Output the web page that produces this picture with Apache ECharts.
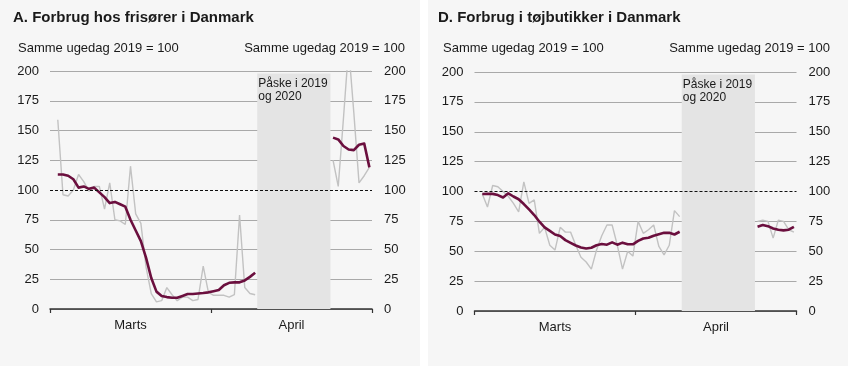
<!DOCTYPE html>
<html><head><meta charset="utf-8">
<script src="https://cdn.jsdelivr.net/npm/echarts@6/dist/echarts.min.js"></script>
<style>html,body{margin:0;padding:0;background:#ffffff;}#c{width:848px;height:366px;}</style>
</head><body><div id="c"></div>
<script>
// Tick / category labels
const monthLabels = ['Marts', 'April'];
const yTicks = [0, 25, 50, 75, 100, 125, 150, 175, 200];
const titles = ['A. Forbrug hos frisører i Danmark', 'D. Forbrug i tøjbutikker i Danmark'];
const unitLabel = 'Samme ugedag 2019 = 100';
const easterLabel = 'Påske i 2019\nog 2020';
const G = null; // Easter gap (no data)

// Day-by-day values (index 0 = first day shown), Easter period missing
const hairDaily = [159, 96, 95, 100, 113, 107, 99, 103, 103, 84, 106, 75, 74, 71, 120, 80, 72, 35, 13, 6,
  7, 18, 12, 7, 10, 10, 7, 8, 36, 14, 11.5, 11.5, 11.5, 10, 12, 79, 18, 13, 12,
  G, G, G, G, G, G, G, G, G, G, G, G, G, G,
  125, 103, 160, 220, 165, 106, 112, 119];
const hairAvg = [113, 113, 112, 109, 102, 103, 101, 102, 98, 94, 89, 90, 88, 86, 75, 66, 57, 43, 26, 14.6,
  11, 10, 9.5, 9.5, 11, 12.6, 12.6, 13, 13.4, 14, 15, 16, 20, 22, 22.4, 22.4, 24, 27, 30.5,
  G, G, G, G, G, G, G, G, G, G, G, G, G, G,
  144, 142.5, 137, 134, 133.5, 138, 139, 119];
const clothDaily = [98, 87, 105, 104, 100, 96, 90, 83, 108, 90, 93, 65, 70, 55, 51, 70, 66, 66, 55, 45,
  41, 35, 51, 63, 72, 72, 55, 35, 50, 46, 75, 65, 68, 72, 54, 47, 55, 84, 79,
  G, G, G, G, G, G, G, G, G, G, G, G, G, G,
  75, 76, 75, 61, 76, 75, 68, 66];
const clothAvg = [97.9, 98, 98, 97, 95, 98.5, 95.8, 93.5, 89.5, 85, 80.3, 74.7, 70, 67, 64, 62.7, 59.3, 57, 54.8, 53.2,
  52.3, 52.9, 55, 56, 55.5, 57.4, 55.5, 57.2, 55.8, 55.8, 58.7, 60.7, 61.3, 63, 64.3, 65.4, 65.4, 64, 66.3,
  G, G, G, G, G, G, G, G, G, G, G, G, G, G,
  70.5, 72, 71, 69, 68, 67.5, 68, 70.5];

const FONT = '"Liberation Sans", Arial, sans-serif';
const TXT = '#1a1a1a';
const chart = echarts.init(document.getElementById('c'), null, {renderer: 'canvas'});

const toPts = arr => arr.map((v, i) => [i + 1, v === null ? '-' : v]);
const xMin = -0.5, xMax = 61.5, monthSplit = 30.5;
const easterFrom = 39.4, easterTo = 53.5;

const grids = [
  {left: 50, top: 71, width: 322, height: 238},
  {left: 474.5, top: 72, width: 322, height: 239}
];
const gridColor = yTicks.map(v => v === 100 ? 'rgba(0,0,0,0)' : '#a9a9a9');

const xAxes = grids.map((g, i) => ({
  type: 'value', gridIndex: i, min: xMin, max: xMax,
  axisLine: {show: true, lineStyle: {color: '#333', width: 1.5}},
  axisTick: {show: true, customValues: [xMin, monthSplit, xMax], length: 4, inside: false, lineStyle: {color: '#333', width: 1.2}},
  axisLabel: {show: true, customValues: [(xMin + monthSplit) / 2, (monthSplit + xMax) / 2], margin: 10,
    formatter: v => v < monthSplit ? monthLabels[0] : monthLabels[1], color: TXT, fontSize: 13, fontFamily: FONT},
  splitLine: {show: false}
}));

const yAxes = [];
grids.forEach((g, i) => {
  yAxes.push({type: 'value', gridIndex: i, position: 'left', min: 0, max: 200, interval: 25,
    axisLine: {show: false}, axisTick: {show: false},
    axisLabel: {color: TXT, fontSize: 13, fontFamily: FONT, margin: 11},
    splitLine: {show: true, lineStyle: {color: gridColor, width: 1}}});
  yAxes.push({type: 'value', gridIndex: i, position: 'right', min: 0, max: 200, interval: 25,
    axisLine: {show: false}, axisTick: {show: false},
    axisLabel: {color: TXT, fontSize: 13, fontFamily: FONT, margin: 12},
    splitLine: {show: false}});
});

function panelSeries(daily, avg, gi) {
  return [
    {type: 'line', xAxisIndex: gi, yAxisIndex: gi * 2, data: toPts(daily), showSymbol: false, symbol: 'none',
      lineStyle: {color: '#c2c2c2', width: 1.4}, z: 3, silent: true, animation: false,
      markArea: {silent: true, itemStyle: {color: '#e4e4e4'},
        label: {show: true, position: 'insideTopLeft', distance: 2, offset: [-1, 1.5], color: TXT,
          fontSize: 12, lineHeight: 13, fontFamily: FONT},
        data: [[{name: easterLabel, xAxis: easterFrom, yAxis: 0}, {xAxis: easterTo, yAxis: 198}]]}
    },
    {type: 'line', xAxisIndex: gi, yAxisIndex: gi * 2, data: toPts(avg), showSymbol: false, symbol: 'none',
      lineStyle: {color: '#6b0f3e', width: 2.6, join: 'round'}, z: 4, silent: true, animation: false,
      markLine: {silent: true, symbol: 'none', animation: false, label: {show: false},
        lineStyle: {color: '#111', type: [3, 2], width: 1}, data: [{yAxis: 100}]}
    }
  ];
}

const graphics = [
  {type: 'rect', left: 0, top: 0, shape: {x: 0, y: 0, width: 420, height: 366}, style: {fill: '#f6f6f6'}, z: -10, silent: true},
  {type: 'rect', left: 428, top: 0, shape: {x: 0, y: 0, width: 420, height: 366}, style: {fill: '#f6f6f6'}, z: -10, silent: true}
];
[0, 1].forEach(i => {
  const off = i === 0 ? 0 : 425;
  graphics.push({type: 'text', x: 13 + off, y: 17.5, silent: true,
    style: {text: titles[i], font: 'bold 15px ' + FONT, fill: TXT, verticalAlign: 'middle', align: 'left'}});
  graphics.push({type: 'text', x: 18 + off, y: 48.5, silent: true,
    style: {text: unitLabel, font: '13px ' + FONT, fill: TXT, verticalAlign: 'middle', align: 'left'}});
  graphics.push({type: 'text', x: 405 + off, y: 48.5, silent: true,
    style: {text: unitLabel, font: '13px ' + FONT, fill: TXT, verticalAlign: 'middle', align: 'right'}});
});

chart.setOption({
  backgroundColor: '#ffffff',
  animation: false,
  grid: grids,
  xAxis: xAxes,
  yAxis: yAxes,
  graphic: graphics,
  series: [...panelSeries(hairDaily, hairAvg, 0), ...panelSeries(clothDaily, clothAvg, 1)]
});
</script></body></html>
